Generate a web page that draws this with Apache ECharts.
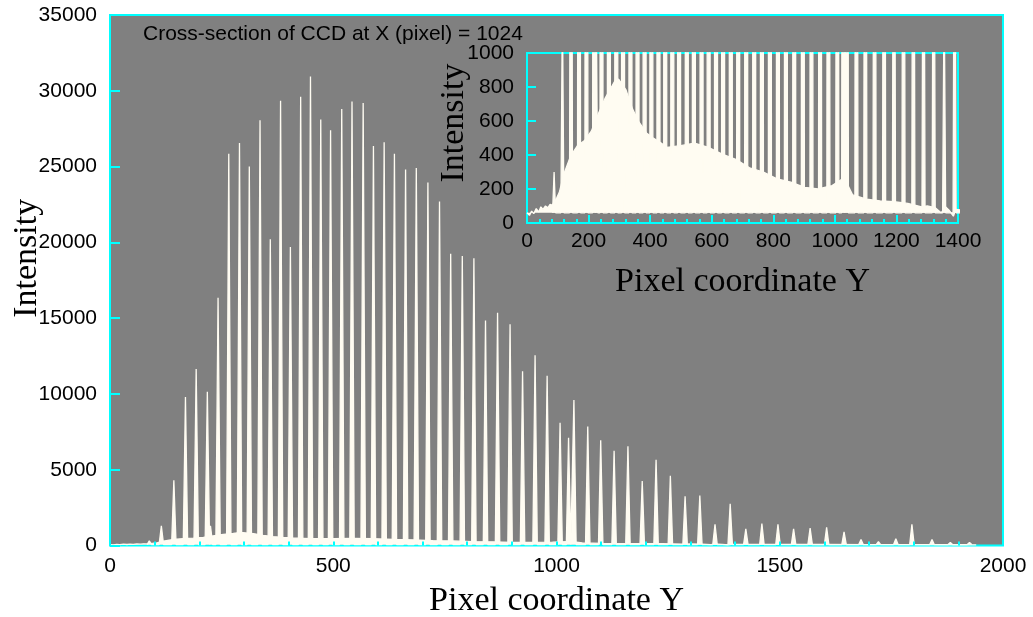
<!DOCTYPE html>
<html>
<head>
<meta charset="utf-8">
<script src="https://cdn.jsdelivr.net/npm/echarts@6/dist/echarts.min.js"></script>
<style>
html,body{margin:0;padding:0;background:#ffffff;}
#chart{width:1033px;height:617px;}
</style>
</head>
<body>
<div id="chart"></div>
<script>
// ---- Data ----
// Emission-line peaks: pixel coordinate Y and peak intensity
const peakPos = [88, 115, 143, 169, 193, 218, 225, 242, 266, 290, 312, 336, 359, 382, 404, 427, 449, 472, 494, 519,
  542, 567, 590, 614, 637, 662, 686, 712, 738, 763, 789, 815, 841, 868, 896, 924, 952, 979, 1008, 1027,
  1039, 1070, 1099, 1129, 1160, 1192, 1223, 1255, 1288, 1321, 1355, 1389, 1424, 1460, 1496, 1531, 1568, 1605, 1644, 1682,
  1721, 1760, 1796, 1841, 1882, 1925];
const peakHeight = [300, 1300, 4300, 9800, 11650, 10150, 1300, 16350, 25850, 26550, 25000, 28050, 20200, 29350, 19700, 29600, 30950, 28100, 27400, 28800,
  29300, 29200, 26350, 26600, 25850, 24800, 24900, 23950, 22700, 19250, 19100, 18950, 14850, 15350, 14600, 11500, 12550, 11200, 8100, 7100,
  9600, 7850, 6950, 6250, 6550, 4250, 5650, 4600, 3250, 3300, 1400, 2750, 1100, 1450, 1400, 1100, 1150, 1200, 900, 400,
  250, 450, 1400, 400, 200, 200];
// Continuum (scattered-light background) under the lines
const bgX = [0, 8, 15, 22, 30, 38, 45, 52, 60, 68, 75, 82, 90, 97, 105, 120, 142, 164, 187, 209,
  231, 254, 276, 290, 298, 321, 343, 365, 388, 410, 432, 455, 499, 544, 589, 634, 678, 723, 768, 812,
  857, 902, 946, 991, 1025, 1040, 1058, 1103, 1147, 1192, 1237, 1282, 1300, 1326, 1345, 1360, 1371, 1385, 1393, 1420,
  1500, 1600, 1700, 1800, 1900, 1940];
const bgY = [60, 45, 70, 55, 85, 65, 95, 80, 100, 90, 110, 105, 125, 150, 180, 290, 395, 455, 485, 540,
  640, 735, 805, 850, 845, 785, 670, 590, 530, 500, 475, 445, 455, 470, 445, 405, 375, 325, 300, 260,
  240, 210, 200, 220, 260, 230, 165, 140, 130, 125, 115, 95, 100, 90, 60, 95, 75, 40, 80, 75,
  70, 65, 60, 55, 50, 45];
const BASE = 60;           // level the filled outline closes on
const LINE_HALF_WIDTH = 5; // drawn half-width of each line profile (style)

const titleText = 'Cross-section of CCD at X (pixel) = 1024';
const xName = 'Pixel coordinate Y';
const yName = 'Intensity';

// ---- Build series data ----
const bgData = bgX.map((x, i) => [x, bgY[i]]);
const spikeData = [];
peakPos.forEach((p, i) => {
  spikeData.push([p - LINE_HALF_WIDTH, BASE]);
  spikeData.push([p, peakHeight[i]]);
  spikeData.push([p + LINE_HALF_WIDTH, BASE]);
});

const IVORY = '#FFFCF2';
const CYAN = '#00FFFF';
const GRAY = '#808080';
const SANS = 'Liberation Sans';
const SERIF = 'Liberation Serif';

function lineSeries(data, xi, yi) {
  return {
    type: 'line', xAxisIndex: xi, yAxisIndex: yi, data: data,
    showSymbol: false, symbol: 'none', animation: false, clip: true, z: 2,
    lineStyle: {color: IVORY, width: 1.3},
    areaStyle: {color: IVORY, opacity: 1, origin: BASE},
    silent: true
  };
}

const plain = v => String(v);
function labelStyle(margin) {
  return {color: '#000', fontFamily: SANS, fontSize: 21, margin: margin, formatter: plain};
}
function nameStyle(extra) {
  return Object.assign({color: '#000', fontFamily: SERIF, fontSize: 34}, extra || {});
}

const chart = echarts.init(document.getElementById('chart'), null, {renderer: 'canvas'});
chart.setOption({
  backgroundColor: '#ffffff',
  animation: false,
  title: {
    text: titleText, left: 138, top: 19,
    textStyle: {color: '#000', fontFamily: SANS, fontSize: 21, fontWeight: 'normal'}
  },
  grid: [
    {left: 110, right: 30, top: 15, bottom: 71.5, show: true, containLabel: false, outerBoundsMode: 'none',
      backgroundColor: GRAY, borderColor: CYAN, borderWidth: 2, z: 0},
    {left: 527, right: 75, top: 53, bottom: 394, show: true, containLabel: false, outerBoundsMode: 'none',
      backgroundColor: GRAY, borderColor: CYAN, borderWidth: 2, z: 1}
  ],
  xAxis: [
    {
      type: 'value', gridIndex: 0, min: 0, max: 2000, interval: 500, z: 5,
      axisLine: {show: false},
      axisTick: {show: true, inside: true, length: 4, lineStyle: {color: CYAN, width: 2}},
      minorTick: {show: true, splitNumber: 5, length: 4, lineStyle: {color: CYAN, width: 2}},
      splitLine: {show: false},
      axisLabel: labelStyle(10),
      name: xName, nameLocation: 'middle', nameGap: 39, nameMoveOverlap: false, nameTextStyle: nameStyle()
    },
    {
      type: 'value', gridIndex: 1, min: 0, max: 1400, interval: 200, z: 5,
      axisLine: {show: false},
      axisTick: {show: true, inside: true, length: 8, lineStyle: {color: CYAN, width: 2}},
      minorTick: {show: true, splitNumber: 5, length: 4, lineStyle: {color: CYAN, width: 2}},
      splitLine: {show: false},
      axisLabel: labelStyle(8),
      name: xName, nameLocation: 'middle', nameGap: 42, nameMoveOverlap: false, nameTextStyle: nameStyle()
    }
  ],
  yAxis: [
    {
      type: 'value', gridIndex: 0, min: 0, max: 35000, interval: 5000, z: 5,
      axisLine: {show: false},
      axisTick: {show: true, inside: true, length: 10, lineStyle: {color: CYAN, width: 2}},
      splitLine: {show: false},
      axisLabel: labelStyle(13),
      name: yName, nameLocation: 'middle', nameGap: 66, nameMoveOverlap: false,
      nameTextStyle: nameStyle({padding: [0, 0, 0, 44]})
    },
    {
      type: 'value', gridIndex: 1, min: 0, max: 1000, interval: 200, z: 5,
      axisLine: {show: false},
      axisTick: {show: true, inside: true, length: 9, lineStyle: {color: CYAN, width: 2}},
      splitLine: {show: false},
      axisLabel: labelStyle(13),
      name: yName, nameLocation: 'middle', nameGap: 56, nameMoveOverlap: false,
      nameTextStyle: nameStyle({padding: [0, 0, 0, 30]})
    }
  ],
  series: [
    lineSeries(bgData, 0, 0),
    lineSeries(spikeData, 0, 0),
    lineSeries(bgData, 1, 1),
    lineSeries(spikeData, 1, 1)
  ]
});
</script>
</body>
</html>
